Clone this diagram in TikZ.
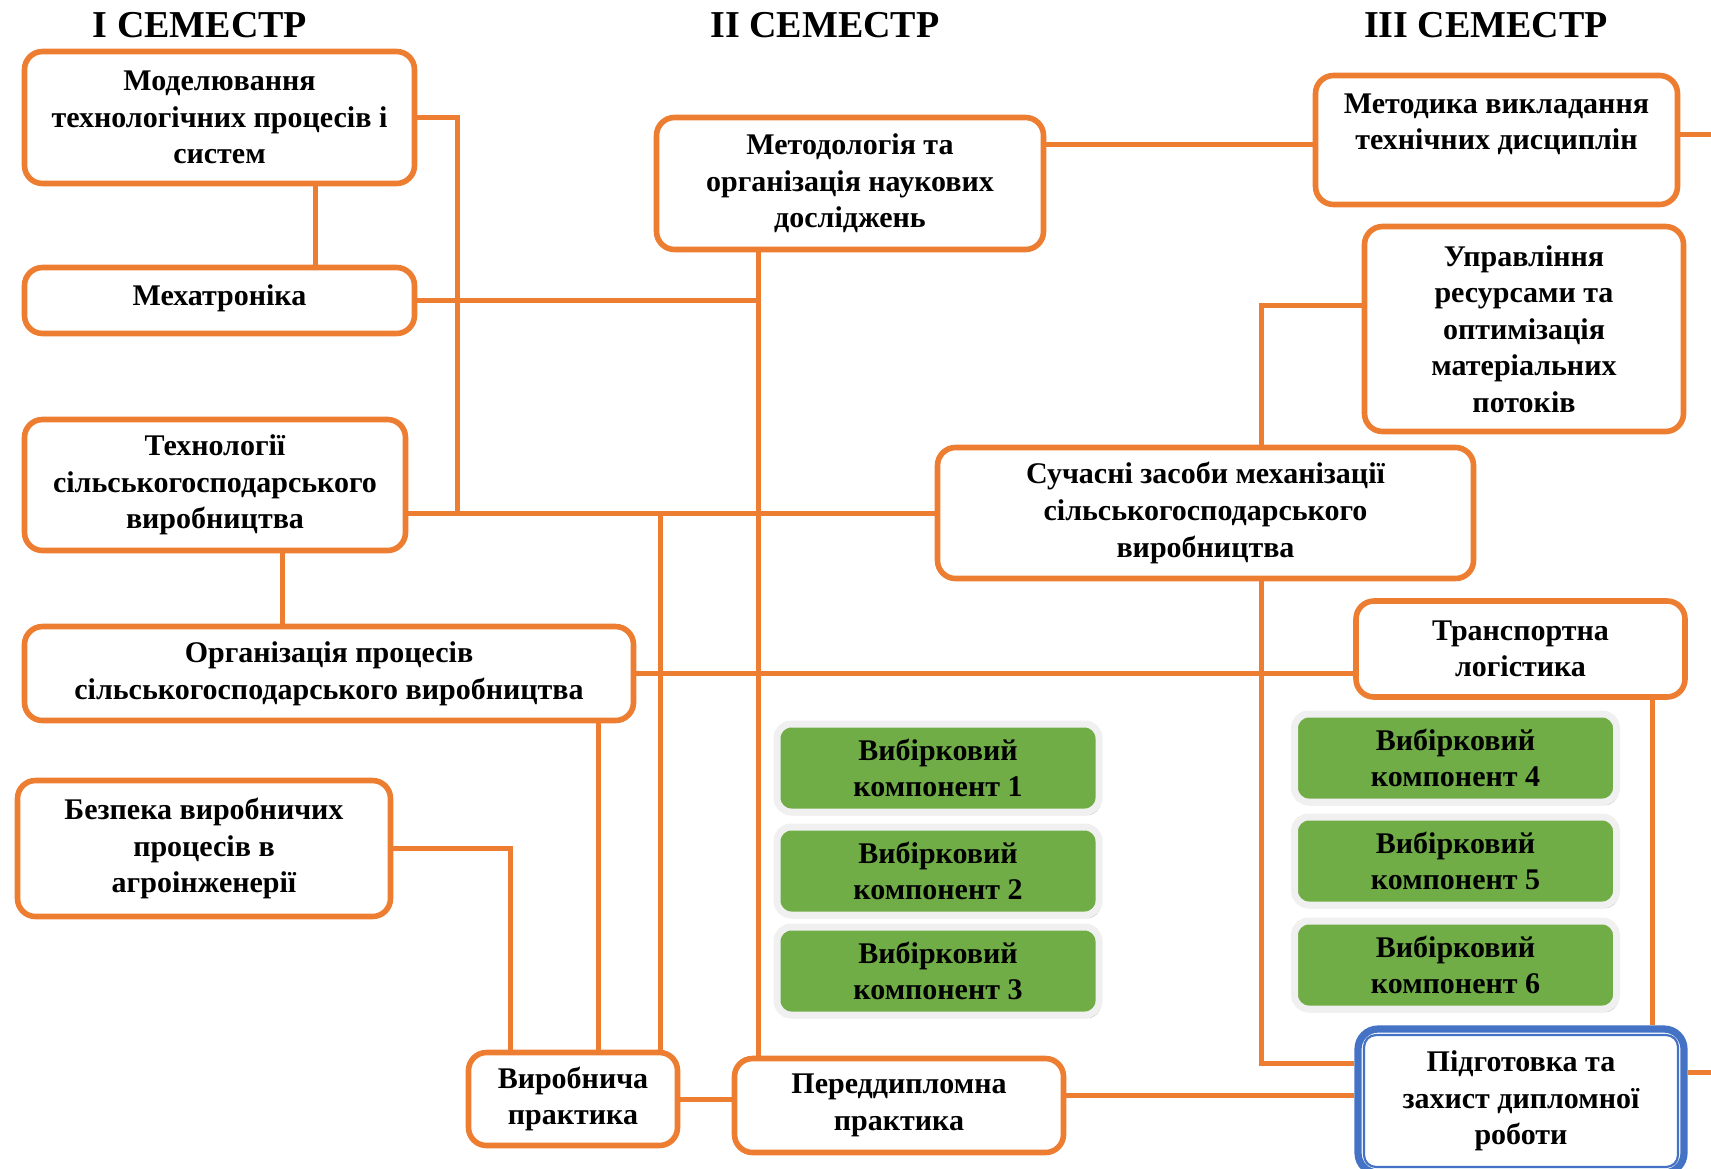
\documentclass[tikz,border=0pt]{standalone}
\usepackage{fontspec}
\setmainfont{Liberation Serif}
\usepackage{tikz}
\usetikzlibrary{shadows}
\definecolor{ourorange}{HTML}{ED7D31}
\definecolor{ourgreen}{HTML}{70AD47}
\definecolor{ourblue}{HTML}{4472C4}
\definecolor{ourshadow}{HTML}{A3AD96}

\begin{document}
\begin{tikzpicture}[x=0.5pt,y=-0.5pt]

  \tikzstyle{semester}=[anchor=base,font=\bfseries\fontsize{19}{22}\selectfont]
  \tikzstyle{course}=[draw=ourorange,line width=2.8pt,rounded corners=9pt,fill=white,
    align=center,inner sep=0pt,font=\bfseries\fontsize{15}{18.3}\selectfont]
  \tikzstyle{elective}=[draw=gray!12,line width=3.5pt,rounded corners=7pt,fill=ourgreen,
    minimum width=161pt,minimum height=44pt,align=center,inner sep=0pt,
    drop shadow={shadow xshift=1pt,shadow yshift=-1.6pt,fill=ourshadow,opacity=1},
    font=\bfseries\fontsize{15}{18.3}\selectfont]
  \tikzstyle{thesis}=[draw=ourblue,line width=3.6pt,rounded corners=10pt,fill=white,
    align=center,inner sep=0pt,font=\bfseries\fontsize{15}{18.3}\selectfont]
  \tikzstyle{link}=[draw=ourorange,line width=2.5pt]

  \useasboundingbox (0,0) rectangle (1711,1168);

  \path
  (200,37) node[semester](s1){I СЕМЕСТР}
  (825,37) node[semester](s2){II СЕМЕСТР}
  (1486,37) node[semester](s3){III СЕМЕСТР};

  % I semester
  \path
  (219.5,117.5) node[course,minimum width=195pt,minimum height=66pt](mod){Моделювання\\технологічних процесів і\\систем}
  (219.5,300.5) node[course,minimum width=195pt,minimum height=33pt](mech){Мехатроніка\\[-13pt]~}
  (215,485) node[course,minimum width=190.5pt,minimum height=65.5pt](tech){Технології\\сільськогосподарського\\виробництва}
  (329,673.5) node[course,minimum width=304.5pt,minimum height=47pt](org){Організація процесів\\сільськогосподарського виробництва}
  (204,848.5) node[course,minimum width=186.5pt,minimum height=68pt](bez){Безпека виробничих\\процесів в\\агроінженерії}
  (573,1099) node[course,minimum width=104.5pt,minimum height=46.5pt](vyr){Виробнича\\практика};

  % II semester
  \path
  (850,183.5) node[course,minimum width=193.5pt,minimum height=66pt](mtd){Методологія та\\організація наукових\\досліджень}
  (899,1105.5) node[course,minimum width=164.5pt,minimum height=47pt](pered){Переддипломна\\практика};

  \path
  (938,768) node[elective](vyb1){Вибірковий\\компонент 1}
  (938,871) node[elective](vyb2){Вибірковий\\компонент 2}
  (938,971) node[elective](vyb3){Вибірковий\\компонент 3};

  % III semester
  \path
  (1496.5,140) node[course,minimum width=181pt,minimum height=64.5pt](metod){Методика викладання\\технічних дисциплін\\~}
  (1524,329) node[course,minimum width=159.5pt,minimum height=102.5pt](upr){Управління\\ресурсами та\\оптимізація\\матеріальних\\потоків}
  (1205.5,513) node[course,minimum width=268pt,minimum height=65.5pt](such){Сучасні засоби механізації\\сільськогосподарського\\виробництва}
  (1520.5,649) node[course,minimum width=164.5pt,minimum height=48pt](trans){Транспортна\\логістика};

  \path
  (1455.5,758) node[elective](vyb4){Вибірковий\\компонент 4}
  (1455.5,861) node[elective](vyb5){Вибірковий\\компонент 5}
  (1455.5,965) node[elective](vyb6){Вибірковий\\компонент 6};

  \path
  (1521,1101) node[thesis,minimum width=163pt,minimum height=72pt](pid){Підготовка та\\захист дипломної\\роботи};
  \draw[ourblue,line width=1.1pt,rounded corners=6pt]
    ([xshift=4.8pt,yshift=-4.8pt]pid.north west) rectangle ([xshift=-4.8pt,yshift=4.8pt]pid.south east);

  \coordinate (j1) at (457,513);
  \coordinate (out1) at (1711,134);
  \coordinate (out2) at (1711,1072);

  \draw[link] (mod.east) -| (j1);
  \draw[link] ([xshift=48pt]mod.south) -- ([xshift=48pt]mod.south |- mech.north);
  \draw[link] (mech.east) -- ([xshift=-46pt]mtd.south |- mech.east);
  \draw[link] ([xshift=-46pt]mtd.south) -- ([xshift=-46pt]mtd.south |- pered.north);
  \draw[link] (such.west) -- (such.west -| tech.east);
  \draw[link] ([xshift=43.5pt]vyr.north) -- ([xshift=43.5pt]vyr.north |- such.west);
  \draw[link] ([xshift=33.5pt]tech.south) -- ([xshift=33.5pt]tech.south |- org.north);
  \draw[link] (org.east) -- (org.east -| trans.west);
  \draw[link] ([xshift=134.5pt]org.south) -- ([xshift=134.5pt]org.south |- vyr.north);
  \draw[link] (bez.east) -| ([xshift=-31.5pt]vyr.north);
  \draw[link] (vyr.east) -- (vyr.east -| pered.west);
  \draw[link] ([yshift=5pt]pered.east) -- ([yshift=5pt]pered.east -| pid.west);

  \draw[link] ([yshift=19.75pt]mtd.east) -- ([yshift=19.75pt]mtd.east -| metod.west);
  \draw[link] ([yshift=3pt]metod.east) -- (out1);
  \draw[link] ([yshift=11.75pt]upr.west) -| ([xshift=28pt]such.north);
  \draw[link] ([xshift=28pt]such.south) |- ([yshift=19pt]pid.west);
  \draw[link] ([xshift=66pt]trans.south) -- ([xshift=66pt]trans.south |- pid.north);
  \draw[link] ([yshift=14.5pt]pid.east) -- (out2);
\end{tikzpicture}
\end{document}
